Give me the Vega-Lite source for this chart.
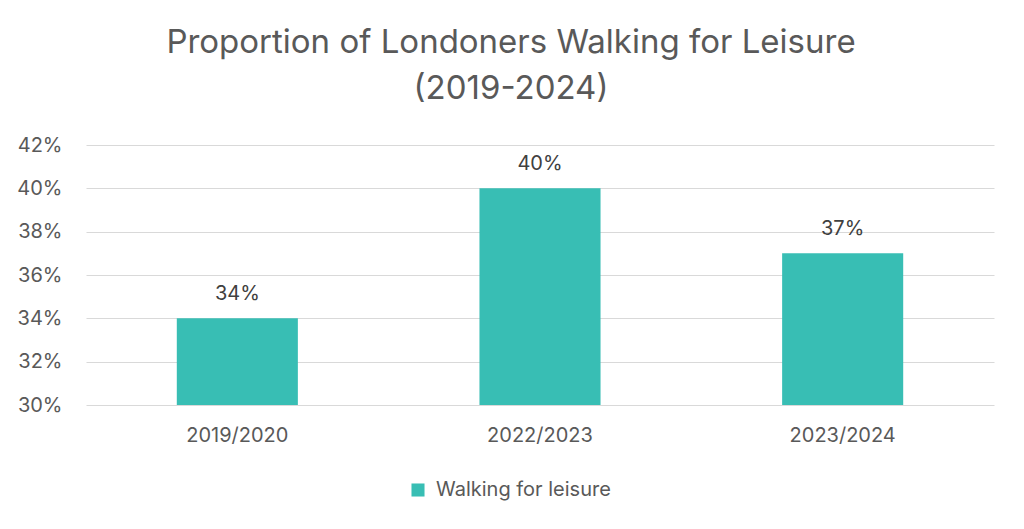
{
  "$schema": "https://vega.github.io/schema/vega-lite/v6.json",
  "autosize": {"type": "none"},
  "padding": {"left": 86, "top": 145, "right": 30, "bottom": 124},
  "width": 908,
  "height": 260,
  "background": "white",
  "title": {
    "text": ["Proportion of Londoners Walking for Leisure", "(2019-2024)"],
    "fontSize": 33,
    "font": "Inter",
    "fontWeight": "normal",
    "color": "#595959",
    "lineHeight": 46,
    "anchor": "middle",
    "dx": -29,
    "offset": 29
  },
  "data": {
    "values": [
      {"year": "2019/2020", "share": 0.34, "series": "Walking for leisure"},
      {"year": "2022/2023", "share": 0.40, "series": "Walking for leisure"},
      {"year": "2023/2024", "share": 0.37, "series": "Walking for leisure"}
    ]
  },
  "encoding": {
    "x": {
      "field": "year",
      "type": "nominal",
      "title": null,
      "scale": {"paddingInner": 0.6, "paddingOuter": 0.3},
      "axis": {"labelAngle": 0, "ticks": false, "domain": false, "labelPadding": 20, "labelFontSize": 20}
    },
    "y": {
      "field": "share",
      "type": "quantitative",
      "title": null,
      "scale": {"domain": [0.3, 0.42], "zero": false, "nice": false},
      "axis": {"format": ".0%", "values": [0.3, 0.32, 0.34, 0.36, 0.38, 0.4, 0.42], "ticks": false, "domain": false, "labelPadding": 24, "labelFontSize": 20}
    }
  },
  "layer": [
    {
      "mark": {"type": "bar", "clip": true},
      "encoding": {
        "color": {
          "field": "series",
          "type": "nominal",
          "scale": {"range": ["#38BEB4"]},
          "legend": {"title": null, "orient": "none", "legendX": 322, "legendY": 335, "direction": "horizontal", "symbolType": "square", "symbolSize": 170, "symbolOffset": 0, "labelOffset": 8, "labelFontSize": 20, "labelLimit": 400}
        }
      }
    },
    {
      "mark": {"type": "text", "baseline": "alphabetic", "dy": -18, "fontSize": 20, "font": "Inter", "color": "#404040"},
      "encoding": {
        "text": {"field": "share", "type": "quantitative", "format": ".0%"}
      }
    }
  ],
  "config": {
    "font": "Inter",
    "view": {"stroke": null},
    "axis": {"labelColor": "#595959", "labelFont": "Inter", "gridColor": "#d9d9d9", "gridWidth": 1.2},
    "legend": {"labelColor": "#595959", "labelFont": "Inter"}
  }
}
